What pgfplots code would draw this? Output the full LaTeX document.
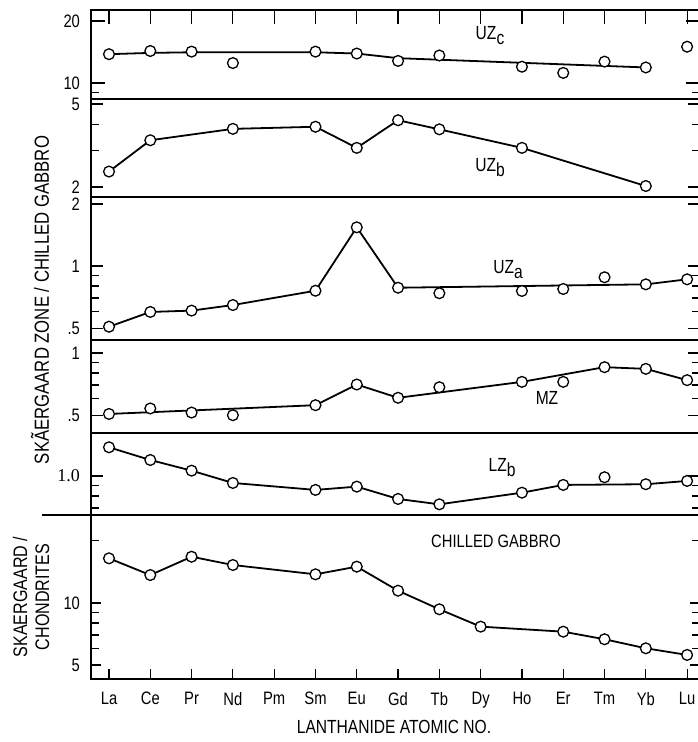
\documentclass[border=0pt]{standalone}
\usepackage{fontspec}
\setmainfont{Liberation Sans}[FakeStretch=0.82]
\newfontfamily\serif{Liberation Serif}
\usepackage{pgfplots}
\pgfplotsset{compat=1.18}
\pgfplotsset{
  mypanel/.style={scale only axis, width=304.25pt, xmin=-0.436, xmax=14.30,
    anchor=north west,
    axis line style={line width=0.9pt},
    tick style={black, line width=0.6pt},
    major tick length=6pt, minor tick length=4pt, tick align=inside,
    ytick pos=both, yticklabel pos=left,
    yticklabel style={font=\fontsize{9}{10}\selectfont, xshift=-2pt},
    clip=false},
  mypts/.style={only marks, mark=*, mark size=2.7pt,
    mark options={fill=white, draw=black, line width=0.65pt}},
  myln/.style={black, line width=0.9pt, no marks},
}
\begin{document}
\begin{tikzpicture}
\path[use as bounding box] (0,0) rectangle (348.5pt,-371pt);

% UZc
\begin{axis}[mypanel, ymode=log, at={(45.5pt,-5pt)}, height=44.5pt, ymin=8.37, ymax=22.6,
  xtick={0,...,14}, xticklabels={}, xtick pos=right, major tick length=7pt,
  ytick={10,20}, yticklabels={10,20}, minor ytick={9}]
\addplot[myln] coordinates {(0,13.8)(1,14.0)(2,14.1)(5,14.1)(6,13.9)(7,13.2)(13,11.9)};
\addplot[mypts] coordinates {(0,13.8)(1,14.3)(2,14.2)(3,12.5)(5,14.2)(6,13.9)(7,12.8)(8,13.6)(10,12.0)(11,11.2)(12,12.7)(13,11.9)(14,15.0)};
\end{axis}

% UZb
\begin{axis}[mypanel, ymode=log, at={(45.5pt,-49.5pt)}, height=49pt, ymin=1.789, ymax=5.287,
  xtick=\empty, ytick={2,5}, yticklabels={2,5}, minor ytick={3,4}]
\addplot[myln] coordinates {(0,2.37)(1,3.35)(3,3.80)(5,3.89)(6,3.08)(7,4.18)(8,3.78)(10,3.08)(13,2.02)};
\addplot[mypts] coordinates {(0,2.37)(1,3.35)(3,3.80)(5,3.89)(6,3.08)(7,4.18)(8,3.78)(10,3.08)(13,2.02)};
\end{axis}

% UZa
\begin{axis}[mypanel, ymode=log, at={(45.5pt,-98.5pt)}, height=71.5pt, ymin=0.438, ymax=2.16,
  xtick=\empty, ytick={0.5,1,2}, yticklabels={.5,1,2}, minor ytick={0.6,0.7,0.8,0.9}]
\addplot[myln] coordinates {(0,0.508)(1,0.599)(2,0.608)(3,0.647)(5,0.759)(6,1.54)(7,0.785)(13,0.815)(14,0.862)};
\addplot[mypts] coordinates {(0,0.508)(1,0.599)(2,0.608)(3,0.647)(5,0.759)(6,1.54)(7,0.785)(8,0.738)(10,0.757)(11,0.774)(12,0.882)(13,0.815)(14,0.862)};
\end{axis}

% MZ
\begin{axis}[mypanel, ymode=log, at={(45.5pt,-170pt)}, height=46.5pt, ymin=0.410, ymax=1.156,
  xtick=\empty, ytick={0.5,1}, yticklabels={.5,1}, minor ytick={0.6,0.7,0.8,0.9}]
\addplot[myln] coordinates {(0,0.507)(5,0.559)(6,0.704)(7,0.607)(10,0.725)(12,0.854)(13,0.838)(14,0.739)};
\addplot[mypts] coordinates {(0,0.507)(1,0.539)(2,0.515)(3,0.500)(5,0.559)(6,0.704)(7,0.607)(8,0.683)(10,0.725)(11,0.725)(12,0.854)(13,0.838)(14,0.739)};
\end{axis}

% LZb
\begin{axis}[mypanel, ymode=log, at={(45.5pt,-216.5pt)}, height=41pt, ymin=0.647, ymax=1.615,
  xtick=\empty, ytick={1}, yticklabels={{\serif 1.0}}, minor ytick={0.7,0.8,0.9}]
\addplot[myln] coordinates {(0,1.377)(1,1.195)(2,1.061)(3,0.925)(5,0.856)(6,0.888)(7,0.774)(8,0.729)(10,0.830)(11,0.905)(13,0.912)(14,0.946)};
\addplot[mypts] coordinates {(0,1.377)(1,1.195)(2,1.061)(3,0.925)(5,0.856)(6,0.888)(7,0.774)(8,0.729)(10,0.830)(11,0.905)(12,0.986)(13,0.912)(14,0.946)};
\end{axis}

% Chilled gabbro / chondrites
\begin{axis}[mypanel, ymode=log, at={(45.5pt,-257.5pt)}, height=82pt, ymin=4.28, ymax=26.7,
  ytick={5,10}, yticklabels={5,10}, minor ytick={6,7,8,9,20},
  xtick={0,...,14}, xtick pos=left, major tick length=5pt,
  xticklabels={La,Ce,Pr,Nd,Pm,Sm,Eu,Gd,Tb,Dy,Ho,Er,Tm,Yb,Lu},
  xticklabel style={font=\fontsize{9}{10}\selectfont, yshift=-3pt}]
\addplot[myln] coordinates {(0,16.46)(1,13.66)(2,16.76)(3,15.28)(5,13.77)(6,15.0)(7,11.47)(8,9.32)(9,7.68)(11,7.26)(12,6.67)(13,6.03)(14,5.60)};
\addplot[mypts] coordinates {(0,16.46)(1,13.66)(2,16.76)(3,15.28)(5,13.77)(6,15.0)(7,11.47)(8,9.32)(9,7.68)(11,7.26)(12,6.67)(13,6.03)(14,5.60)};
\end{axis}

% separator extension between the two y labels
\draw[line width=0.9pt] (21pt,-257.5pt) -- (45.5pt,-257.5pt);

% panel labels
\node[font=\fontsize{9.5}{10}\selectfont] at (245pt,-18pt) {UZ\raisebox{-0.5ex}{c}};
\node[font=\fontsize{9.5}{10}\selectfont] at (245pt,-84pt) {UZ\raisebox{-0.5ex}{b}};
\node[font=\fontsize{9.5}{10}\selectfont] at (254pt,-135pt) {UZ\raisebox{-0.5ex}{a}};
\node[font=\fontsize{9.5}{10}\selectfont] at (273.5pt,-199pt) {MZ};
\node[font=\fontsize{9.5}{10}\selectfont] at (251pt,-234pt) {LZ\raisebox{-0.5ex}{b}};
\node[font=\fontsize{9}{10}\selectfont] at (248pt,-270.5pt) {CHILLED GABBRO};

% axis titles
\node[rotate=90, font=\fontsize{10.2}{11}\selectfont] at (20pt,-150pt) {SKÃERGAARD ZONE / CHILLED GABBRO};
\node[rotate=90, align=center, font=\fontsize{9.8}{11}\selectfont] at (15.5pt,-298.5pt) {SKAERGAARD /\\CHONDRITES};
\node[font=\fontsize{9.5}{10}\selectfont] at (197pt,-363.5pt) {LANTHANIDE ATOMIC NO.};
\end{tikzpicture}
\end{document}
